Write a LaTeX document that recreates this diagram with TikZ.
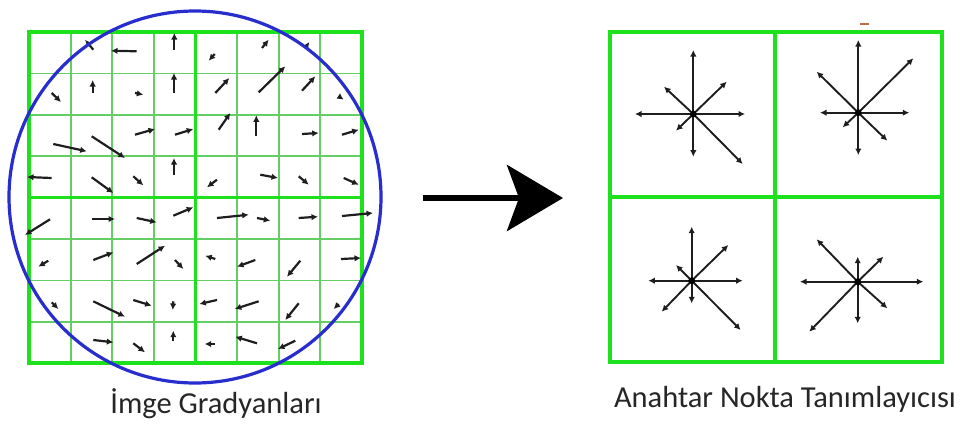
\documentclass[tikz,border=0pt]{standalone}
\usepackage{fontspec}
\setmainfont{Carlito}
\usetikzlibrary{arrows.meta}
\definecolor{gridgreen}{RGB}{30,225,30}
\definecolor{thingreen}{RGB}{100,205,100}
\definecolor{circblue}{RGB}{40,45,205}
\definecolor{arrowgray}{RGB}{30,30,30}
\definecolor{markred}{RGB}{190,110,70}
\tikzset{
  thick grid/.style={draw=gridgreen,line width=3.2pt},
  thin grid/.style={draw=thingreen,line width=1.8pt},
  grad/.style={draw=arrowgray,line width=2.2pt,-{Latex[length=6.5pt,width=6.5pt]}},
  desc/.style={draw=arrowgray,line width=1.9pt,-{Latex[length=6.5pt,width=6.5pt]}},
  label/.style={font=\fontsize{30.5}{34}\selectfont,text=black!85,anchor=base,inner sep=0pt},
  bigarrow/.style={draw=black,line width=6pt,-{Stealth[length=56pt,width=66pt,inset=12pt]}}
}
\begin{document}
\begin{tikzpicture}[x=1pt,y=-1pt]
\useasboundingbox (0,0) rectangle (963,426);
% ---------- left grid ----------
\foreach \i in {1,2,3,5,6,7} {
  \draw[thin grid] (29+\i*41.6,32) -- (29+\i*41.6,363);
  \draw[thin grid] (29,32+\i*41.4) -- (362,32+\i*41.4);
}
\draw[thick grid] (195.5,32) -- (195.5,363);
\draw[thick grid] (29,197.6) -- (362,197.6);
\draw[thick grid] (29,32) rectangle (362,363);
% gradient arrows
\foreach \a/\b/\c/\d in {
 93.3/49.7/85/39.7, 136.7/51.3/111/50.7, 174.3/49.7/174.3/33,
 51.7/93/61/102, 92.7/93/92.7/80, 135/93/143.3/94.7, 174/93/174/73,
 53.3/144/86.7/151.3, 91.7/136.3/125/158, 135/134.7/155/129, 175/134.7/193.3/129,
 51.7/178/27/177, 91.7/177.3/113.3/193, 133.3/176.3/143.3/185.3, 174/174.7/174/158,
 214.7/54/208.7/60.7, 262/48/268.7/39.7, 305.3/48/309.3/42,
 215.3/93/229.3/78, 258.7/92.3/285.3/66.3, 302/90.7/315.3/76.3, 338.7/96.3/343.7/99.7,
 218.7/129.7/230.3/113, 256.3/136.3/256.3/115.3, 302/134/318.7/133, 342/134.7/358.7/129.7,
 217/179.7/207/187.3, 260.3/174.7/278/178, 298.7/176.3/308.7/184.7, 343.7/178/358.7/184.7,
 50/219.3/25/235, 91.7/219/115/219, 136.7/218/156.7/222.3, 173.3/215.7/193.3/207.3,
 48.3/260.7/38.3/266.7, 93.3/260/113.3/252.3, 136.7/264/165/245.7, 175/260/183.3/269,
 51.7/302.3/58.3/309, 93.3/301.3/125/316.7, 133.3/300/151.7/305.7, 173.3/301.3/172.7/310,
 93.3/340/113.3/342.3, 133.3/343.3/145/352.3, 173.3/340.7/173.3/330.7,
 217/218/248.7/214.7, 257/218/270.3/220.7, 298.7/218/318/216.7, 342/216/373/213,
 215.3/259/205.3/255.7, 255.3/260/237/266.7, 300.3/260.7/287/276.7, 341/259/361/258,
 217/300/199.3/304, 258.7/301.3/234.7/309, 298.7/303.3/285.3/320, 338.7/304/333.7/309,
 215.3/344/204.7/344, 257/343.3/235.3/336.7, 295.3/340.7/278/349}
  \draw[grad] (\a,\b) -- (\c,\d);
% circle
\node[draw=circblue,line width=3.2pt,circle,minimum size=372pt,inner sep=0pt] (circ) at (195,197) {};
% ---------- big arrow ----------
\coordinate (atail) at (423,198);
\coordinate (atip) at (563,198);
\draw[bigarrow] (atail) -- (atip);
% ---------- right grid ----------
\draw[thick grid] (775,32) -- (775,362);
\draw[thick grid] (610,197) -- (942,197);
\draw[thick grid] (610,32) rectangle (942,362);
\draw[draw=markred,line width=1.4pt] (860,24) -- (869,24);
% descriptors
\coordinate (d1) at (693.3,114);
\coordinate (d2) at (858.3,112.7);
\coordinate (d3) at (691.7,280.7);
\coordinate (d4) at (857.7,281.7);
\foreach \x/\y in {693.3/50, 693.3/156.7, 635/114, 745/114, 664/86.7, 726.7/81.7, 676/130.7, 742.7/164}
  \draw[desc] (d1) -- (\x,\y);
\foreach \x/\y in {858.3/40, 858.3/155, 820/112.7, 909.3/112.7, 816.7/71.7, 913.3/58.3, 842.7/127.3, 887.3/140.7}
  \draw[desc] (d2) -- (\x,\y);
\foreach \x/\y in {691.7/226.7, 691.7/303.3, 648.3/280.7, 742.7/280.7, 676/265, 728.3/245, 661.7/311.7, 740.7/330}
  \draw[desc] (d3) -- (\x,\y);
\foreach \x/\y in {857.7/256.7, 857.7/323.3, 800/281.7, 923.3/281.7, 816.7/239.3, 883.3/256.7, 809.3/331.7, 887.3/308.3}
  \draw[desc] (d4) -- (\x,\y);
\foreach \c in {d1,d2,d3,d4} \fill[black] (\c) circle (3.4pt);
% ---------- labels ----------
\node[label] (lab1) at (216,413) {İmge Gradyanları};
\node[label] (lab2) at (785,407) {Anahtar Nokta Tanımlayıcısı};
\end{tikzpicture}
\end{document}
